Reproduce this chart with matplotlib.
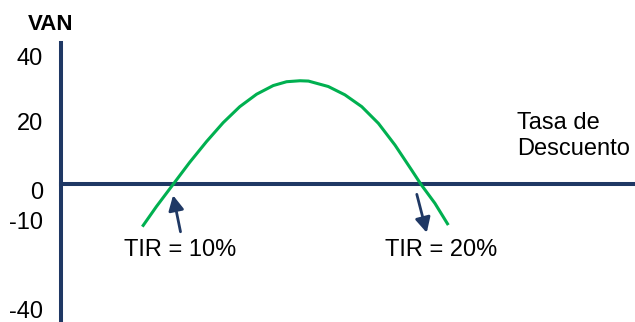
import matplotlib.pyplot as plt
from matplotlib.transforms import ScaledTranslation

plt.rcParams['font.family'] = ['Liberation Sans', 'DejaVu Sans']

# Curva VAN vs tasa de descuento
tasa = [8.76, 9.33, 10.0, 10.67, 11.35, 12.02, 12.69, 13.37, 14.04, 14.58,
        15.12, 15.46, 16.26, 16.93, 17.61, 18.28, 18.95, 19.62, 20.0, 20.56, 21.10]
van = [-13.2, -6.9, 0.0, 6.9, 13.4, 19.3, 24.3, 28.2, 30.9, 32.1,
       32.4, 32.3, 30.6, 28.0, 24.3, 19.1, 12.3, 4.5, 0.0, -5.9, -12.7]

tir_values = [10, 20]
tir_labels = ['TIR = 10%', 'TIR = 20%']

y_ticks = [40, 20, 0, -10, -40]

navy = '#1F3864'
green = '#00B050'

fig = plt.figure(figsize=(6.35, 3.22), dpi=100)
ax = fig.add_axes([61 / 635, 0, (635 - 61) / 635, (322 - 43) / 322])

ax.plot(tasa, van, color=green, lw=2.2, solid_capstyle='butt',
        solid_joinstyle='round', zorder=3)

ax.set_xlim(5.48, 28.63)
ax.set_ylim(-43.0, 44.2)

for side in ['top', 'right']:
    ax.spines[side].set_visible(False)
ax.spines['left'].set_color(navy)
ax.spines['left'].set_linewidth(2.9)
ax.spines['bottom'].set_color(navy)
ax.spines['bottom'].set_linewidth(2.9)
ax.spines['bottom'].set_position(('data', 0))

ax.set_xticks([])
ax.set_yticks(y_ticks)
ax.set_yticklabels([str(v) for v in y_ticks])
ax.tick_params(axis='y', length=0, pad=13, labelsize=17)

# pequenos ajustes verticales de las etiquetas (en pixeles, como en el original)
label_shift = [0, -1, -6, -4, 2.5]
for lbl, dy in zip(ax.get_yticklabels(), label_shift):
    lbl.set_transform(lbl.get_transform() + ScaledTranslation(0, dy / 100, fig.dpi_scale_trans))

# Flechas hacia los puntos de TIR
arrow_offsets = [((0.30, -14.8), (0.0, -3.4)), ((-0.17, -3.1), (0.23, -15.1))]
for tir, (tail, tip) in zip(tir_values, arrow_offsets):
    ax.annotate('', xy=(tir + tip[0], tip[1]), xytext=(tir + tail[0], tail[1]),
                arrowprops=dict(arrowstyle='-|>,head_length=0.45,head_width=0.23',
                                lw=2.0, color=navy, mutation_scale=20,
                                shrinkA=0, shrinkB=0))

label_dx = [0.28, 0.8]
for tir, lab, dx in zip(tir_values, tir_labels, label_dx):
    ax.text(tir + dx, -20.6, lab, fontsize=17, ha='center', va='center')

ax.text(23.87, 15.2, 'Tasa de\nDescuento', fontsize=17, ha='left', va='center',
        linespacing=1.25)

fig.text(51 / 635, 1 - 25 / 322, 'VAN', fontsize=16, fontweight='bold',
         ha='center', va='center')

plt.savefig('out.png', dpi=100)
plt.close(fig)
